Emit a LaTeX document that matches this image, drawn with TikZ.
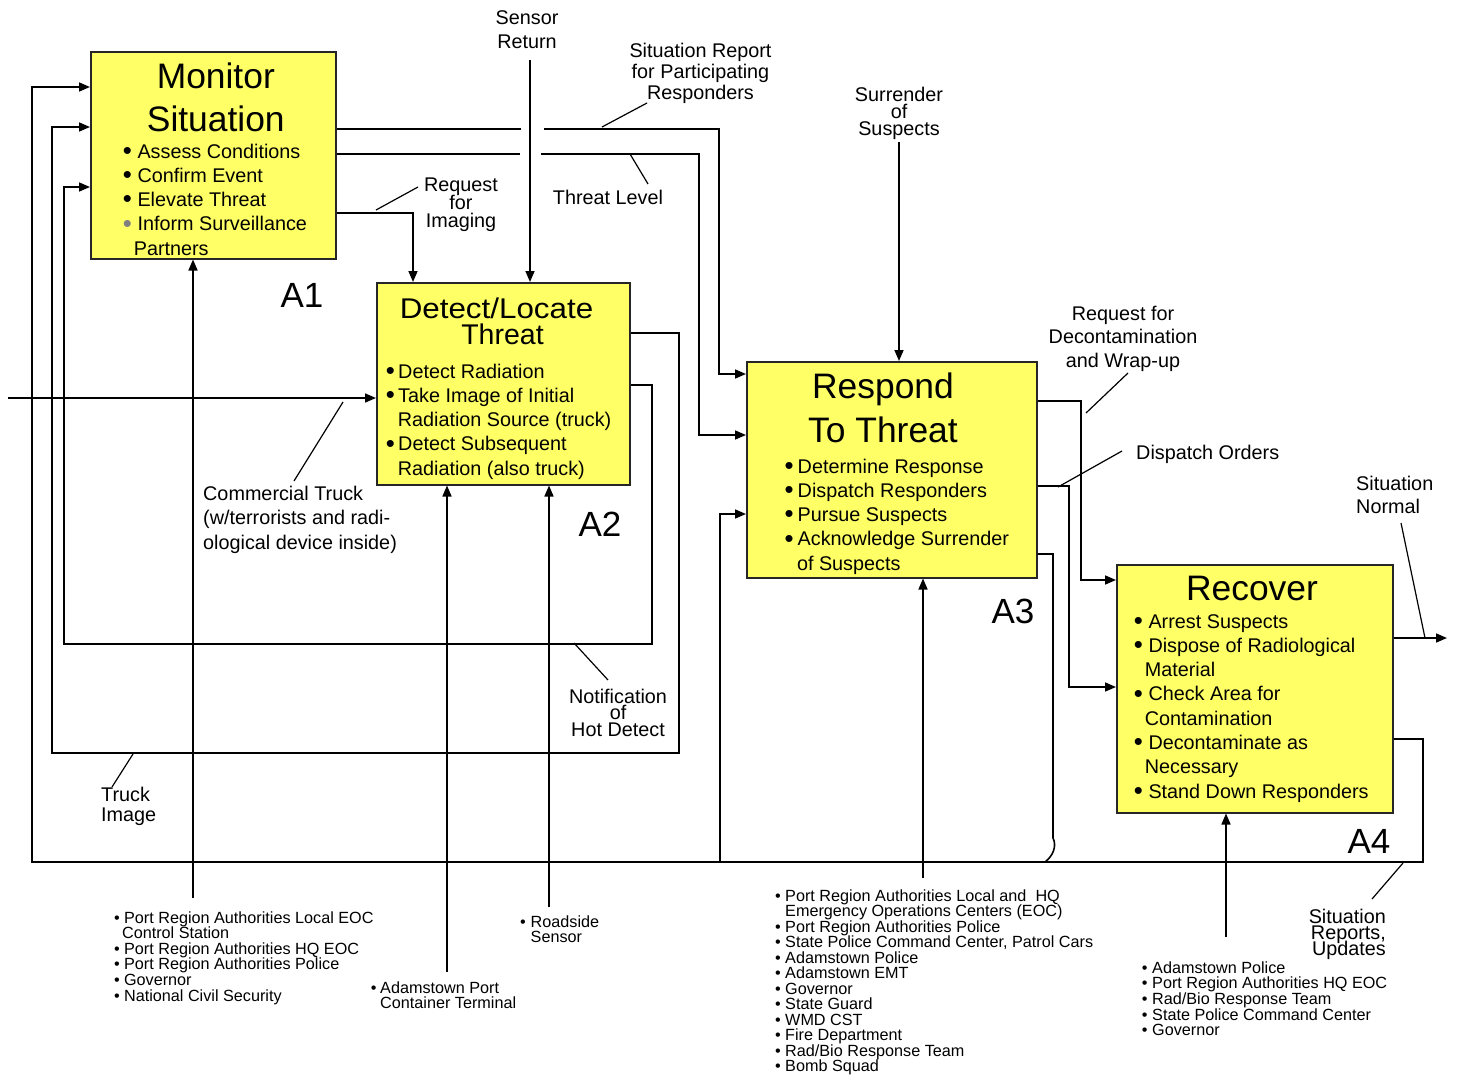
\documentclass[tikz,border=0pt]{standalone}
\usepackage{fontspec}
\setmainfont{Liberation Sans}
\usepackage{graphicx}
\usetikzlibrary{arrows.meta,calc}
\definecolor{boxyellow}{RGB}{255,255,102}

% stacked lines with an exact baseline distance (left / centred / right)
\newcommand\linesL[2]{\vtop{\baselineskip=#1\relax\lineskiplimit=-\maxdimen\lineskip=0pt\halign{##\hfil\cr#2\crcr}}}
\newcommand\linesC[2]{\vtop{\baselineskip=#1\relax\lineskiplimit=-\maxdimen\lineskip=0pt\halign{\hfil##\hfil\cr#2\crcr}}}
\newcommand\linesR[2]{\vtop{\baselineskip=#1\relax\lineskiplimit=-\maxdimen\lineskip=0pt\halign{\hfil##\cr#2\crcr}}}
% bullets in a box of given width: large ones for the activity boxes, plain ones for the lists
\newcommand\bdot{\raisebox{-0.07em}{\scalebox{1.3}{•}}}
\newcommand\bul[1]{\makebox[#1][l]{\bdot}}
\newcommand\bulg[1]{\makebox[#1][l]{\textcolor{gray}{\bdot}}}
\newcommand\lbul[1]{\makebox[#1][l]{•}}

\begin{document}
\begin{tikzpicture}[x=1pt,y=-1pt,
  box/.style={draw=black!85, line width=1.5pt, fill=boxyellow, inner sep=0pt, anchor=north west},
  flow/.style={line width=1.6pt},
  arr/.style={flow, -{Triangle[length=11pt,width=9pt]}},
  lead/.style={line width=1.2pt},
  txt/.style={inner sep=0pt, font=\fontsize{19.8}{24}\selectfont},
  small/.style={inner sep=0pt, font=\fontsize{16.2}{15.6}\selectfont, anchor=base west},
  title/.style={inner sep=0pt, font=\fontsize{35.4}{43}\selectfont, anchor=base},
  alabel/.style={inner sep=0pt, font=\fontsize{35}{40}\selectfont, anchor=base}]

\fill[white] (0,0) rectangle (1458,1076);
\useasboundingbox (0,0) rectangle (1458,1076);

% ---------------- activity boxes ----------------
\node[box, minimum width=245pt, minimum height=207pt] (A1) at (90,51) {};
\node[box, minimum width=253pt, minimum height=202pt] (A2) at (376,282) {};
\node[box, minimum width=290pt, minimum height=216pt] (A3) at (746,361) {};
\node[box, minimum width=276pt, minimum height=248pt] (A4) at (1116,564) {};

% titles
\node[title] (t1) at (215.8,88.3) {\linesC{43pt}{Monitor\cr Situation}};
\node[inner sep=0pt, font=\fontsize{28.5}{26}\selectfont, anchor=base] (t2) at (496.5,318.3)
  {\linesC{25.7pt}{\scalebox{1.1}[1]{Detect/Locate}\cr \kern12pt Threat}};
\node[title] (t3) at (883,398) {\linesC{44pt}{Respond\cr To Threat}};
\node[title] (t4) at (1252,600) {Recover};

% activity bullets
\node[txt, anchor=base west] (b1) at (122.6,158) {\linesL{24.3pt}{%
  \bul{14.7pt}Assess Conditions\cr
  \bul{14.7pt}Confirm Event\cr
  \bul{14.7pt}Elevate Threat\cr
  \bulg{14.7pt}Inform Surveillance\cr
  \kern11pt Partners}};
\node[txt, anchor=base west] (b2) at (385.6,378) {\linesL{24.3pt}{%
  \bul{12.4pt}Detect Radiation\cr
  \bul{12.4pt}Take Image of Initial\cr
  \kern12pt Radiation Source (truck)\cr
  \bul{12.4pt}Detect Subsequent\cr
  \kern12pt Radiation (also truck)}};
\node[txt, anchor=base west] (b3) at (784.3,473) {\linesL{24.3pt}{%
  \bul{13.2pt}Determine Response\cr
  \bul{13.2pt}Dispatch Responders\cr
  \bul{13.2pt}Pursue Suspects\cr
  \bul{13.2pt}Acknowledge Surrender\cr
  \kern12.5pt of Suspects}};
\node[txt, anchor=base west] (b4) at (1133.6,628) {\linesL{24.3pt}{%
  \bul{14.7pt}Arrest Suspects\cr
  \bul{14.7pt}Dispose of Radiological\cr
  \kern11pt Material\cr
  \bul{14.7pt}Check Area for\cr
  \kern11pt Contamination\cr
  \bul{14.7pt}Decontaminate as\cr
  \kern11pt Necessary\cr
  \bul{14.7pt}Stand Down Responders}};

% node numbers
\node[alabel] (n1) at (302,307) {A1};
\node[alabel] (n2) at (600,536) {A2};
\node[alabel] (n3) at (1013,623) {A3};
\node[alabel] (n4) at (1369,853) {A4};

% ---------------- arrow labels ----------------
\node[txt, anchor=base] (lsensor) at (527,24) {\linesC{24.3pt}{Sensor\cr Return}};
\node[txt, anchor=base] (lsitrep) at (700.5,57.3) {\linesC{21.3pt}{Situation Report\cr for Participating\cr Responders}};
\node[txt, anchor=base] (lthreat) at (608,204) {Threat Level};
\node[txt, anchor=base] (limg) at (461,191) {\linesC{18.3pt}{Request\cr for\cr Imaging}};
\node[txt, anchor=base] (lsurr) at (899,101) {\linesC{17pt}{Surrender\cr of\cr Suspects}};
\node[txt, anchor=base] (ldecon) at (1123,320) {\linesC{23.5pt}{Request for\cr Decontamination\cr and Wrap-up}};
\node[txt, anchor=base west] (ldisp) at (1136,459) {Dispatch Orders};
\node[txt, anchor=base west] (lnormal) at (1356,490) {\linesL{23.5pt}{Situation\cr Normal}};
\node[txt, anchor=base west] (ltruck) at (203,500) {\linesL{24.5pt}{Commercial Truck\cr (w/terrorists and radi-\cr ological device inside)}};
\node[txt, anchor=base] (lnotif) at (618,703) {\linesC{16.5pt}{Notification\cr of\cr Hot Detect}};
\node[txt, anchor=base west] (ltimg) at (101,801) {\linesL{20pt}{Truck\cr Image}};
\node[txt, anchor=base east] (lsrep) at (1386,923) {\linesR{16.4pt}{Situation\cr Reports,\cr Updates}};

% ---------------- mechanism lists ----------------
\node[small] (mech1) at (113.9,923) {\linesL{15.6pt}{%
  \lbul{10pt}Port Region Authorities Local EOC\cr
  \kern8pt Control Station\cr
  \lbul{10pt}Port Region Authorities HQ EOC\cr
  \lbul{10pt}Port Region Authorities Police\cr
  \lbul{10pt}Governor\cr
  \lbul{10pt}National Civil Security}};
\node[small] (mech2) at (370.6,993) {\linesL{15.6pt}{%
  \lbul{9.4pt}Adamstown Port\cr
  \kern9.4pt Container Terminal}};
\node[small] (mech3) at (520,927) {\linesL{15.6pt}{%
  \lbul{10.5pt}Roadside\cr
  \kern10.5pt Sensor}};
\node[small] (mech4) at (775,901) {\linesL{15.5pt}{%
  \lbul{10pt}Port Region Authorities Local and\ \ HQ\cr
  \kern10pt Emergency Operations Centers (EOC)\cr
  \lbul{10pt}Port Region Authorities Police\cr
  \lbul{10pt}State Police Command Center, Patrol Cars\cr
  \lbul{10pt}Adamstown Police\cr
  \lbul{10pt}Adamstown EMT\cr
  \lbul{10pt}Governor\cr
  \lbul{10pt}State Guard\cr
  \lbul{10pt}WMD CST\cr
  \lbul{10pt}Fire Department\cr
  \lbul{10pt}Rad/Bio Response Team\cr
  \lbul{10pt}Bomb Squad}};
\node[small] (mech5) at (1141.7,973.3) {\linesL{15.6pt}{%
  \lbul{10.3pt}Adamstown Police\cr
  \lbul{10.3pt}Port Region Authorities HQ EOC\cr
  \lbul{10.3pt}Rad/Bio Response Team\cr
  \lbul{10.3pt}State Police Command Center\cr
  \lbul{10.3pt}Governor}};

% ---------------- free ends and bend points ----------------
\coordinate (m1) at (193,898);
\coordinate (m2) at (447,972);
\coordinate (m3) at (549,907);
\coordinate (m4) at (923,878);
\coordinate (m5) at (1226,937);
\coordinate (sens) at (530,60);
\coordinate (surr) at (899,142);
\coordinate (trk) at (8,398);
\coordinate (outN) at (1447,638);
\coordinate (g1a) at (521,129);
\coordinate (g1b) at (544,129);
\coordinate (c1) at (719,129);
\coordinate (g2a) at (520,154);
\coordinate (g2b) at (541,154);
\coordinate (c2) at (699,154);
\coordinate (c3) at (413,213);
\coordinate (c6a) at (652,644);
\coordinate (c6b) at (64,644);
\coordinate (c7a) at (679,753);
\coordinate (c7b) at (52,753);
\coordinate (c8) at (1081,580);
\coordinate (c9) at (1069,687);
\coordinate (c10) at (1053,838);
\coordinate (c10j) at (1045,862);
\coordinate (c11a) at (1423,862);
\coordinate (c11b) at (32,862);
\coordinate (c12) at (720,862);

% ---------------- connectors ----------------
% mechanisms and controls
\draw[arr] (m1) -- (m1 |- A1.south);
\draw[arr] (m2) -- (m2 |- A2.south);
\draw[arr] (m3) -- (m3 |- A2.south);
\draw[arr] (m4) -- (m4 |- A3.south);
\draw[arr] (m5) -- (m5 |- A4.south);
\draw[arr] (sens) -- (sens |- A2.north);
\draw[arr] (surr) -- (surr |- A3.north);
% input and output
\draw[arr] (trk) -- (trk -| A2.west);
\draw[arr] ($(A4.north east)+(0,74)$) -- (outN);
% A1 -> A3
\draw[flow] ($(A1.north east)+(0,78)$) -- (g1a);
\draw[arr] (g1b) -- (c1) |- ($(A3.north west)+(0,13)$);
\draw[flow] ($(A1.north east)+(0,103)$) -- (g2a);
\draw[arr] (g2b) -- (c2) |- ($(A3.north west)+(0,74)$);
% A1 -> A2
\draw[arr] ($(A1.north east)+(0,162)$) -- (c3) -- (c3 |- A2.north);
% A2 -> A1 feedback
\draw[arr] ($(A2.north east)+(0,103)$) -| (c6a) -- (c6b) |- ($(A1.north west)+(0,136)$);
\draw[arr] ($(A2.north east)+(0,51)$) -| (c7a) -- (c7b) |- ($(A1.north west)+(0,76)$);
% A3 -> A4
\draw[arr] ($(A3.north east)+(0,40)$) -| (c8) -- (c8 -| A4.west);
\draw[arr] ($(A3.north east)+(0,125)$) -| (c9) -- (c9 -| A4.west);
% A3 -> feedback line
\draw[flow] ($(A3.north east)+(0,193)$) -| (c10) .. controls (1057,846) and (1053,856) .. (c10j);
% A4 -> A1 and A3 feedback
\draw[arr] ($(A4.north east)+(0,175)$) -| (c11a) -- (c11b) |- ($(A1.north west)+(0,36)$);
\draw[arr] (c12) |- ($(A3.north west)+(0,153)$);

% ---------------- label leaders ----------------
\draw[lead] (376,210) -- (418,187);
\draw[lead] (602,127) -- (647,103);
\draw[lead] (630,154) -- (648,184);
\draw[lead] (1086,413) -- (1128,373);
\draw[lead] (1058,487) -- (1122,451);
\draw[lead] (1401,523) -- (1425,638);
\draw[lead] (343,402) -- (294,481);
\draw[lead] (574,643) -- (608,680);
\draw[lead] (133,754) -- (112,787);
\draw[lead] (1403,863) -- (1372,899);
\end{tikzpicture}
\end{document}
